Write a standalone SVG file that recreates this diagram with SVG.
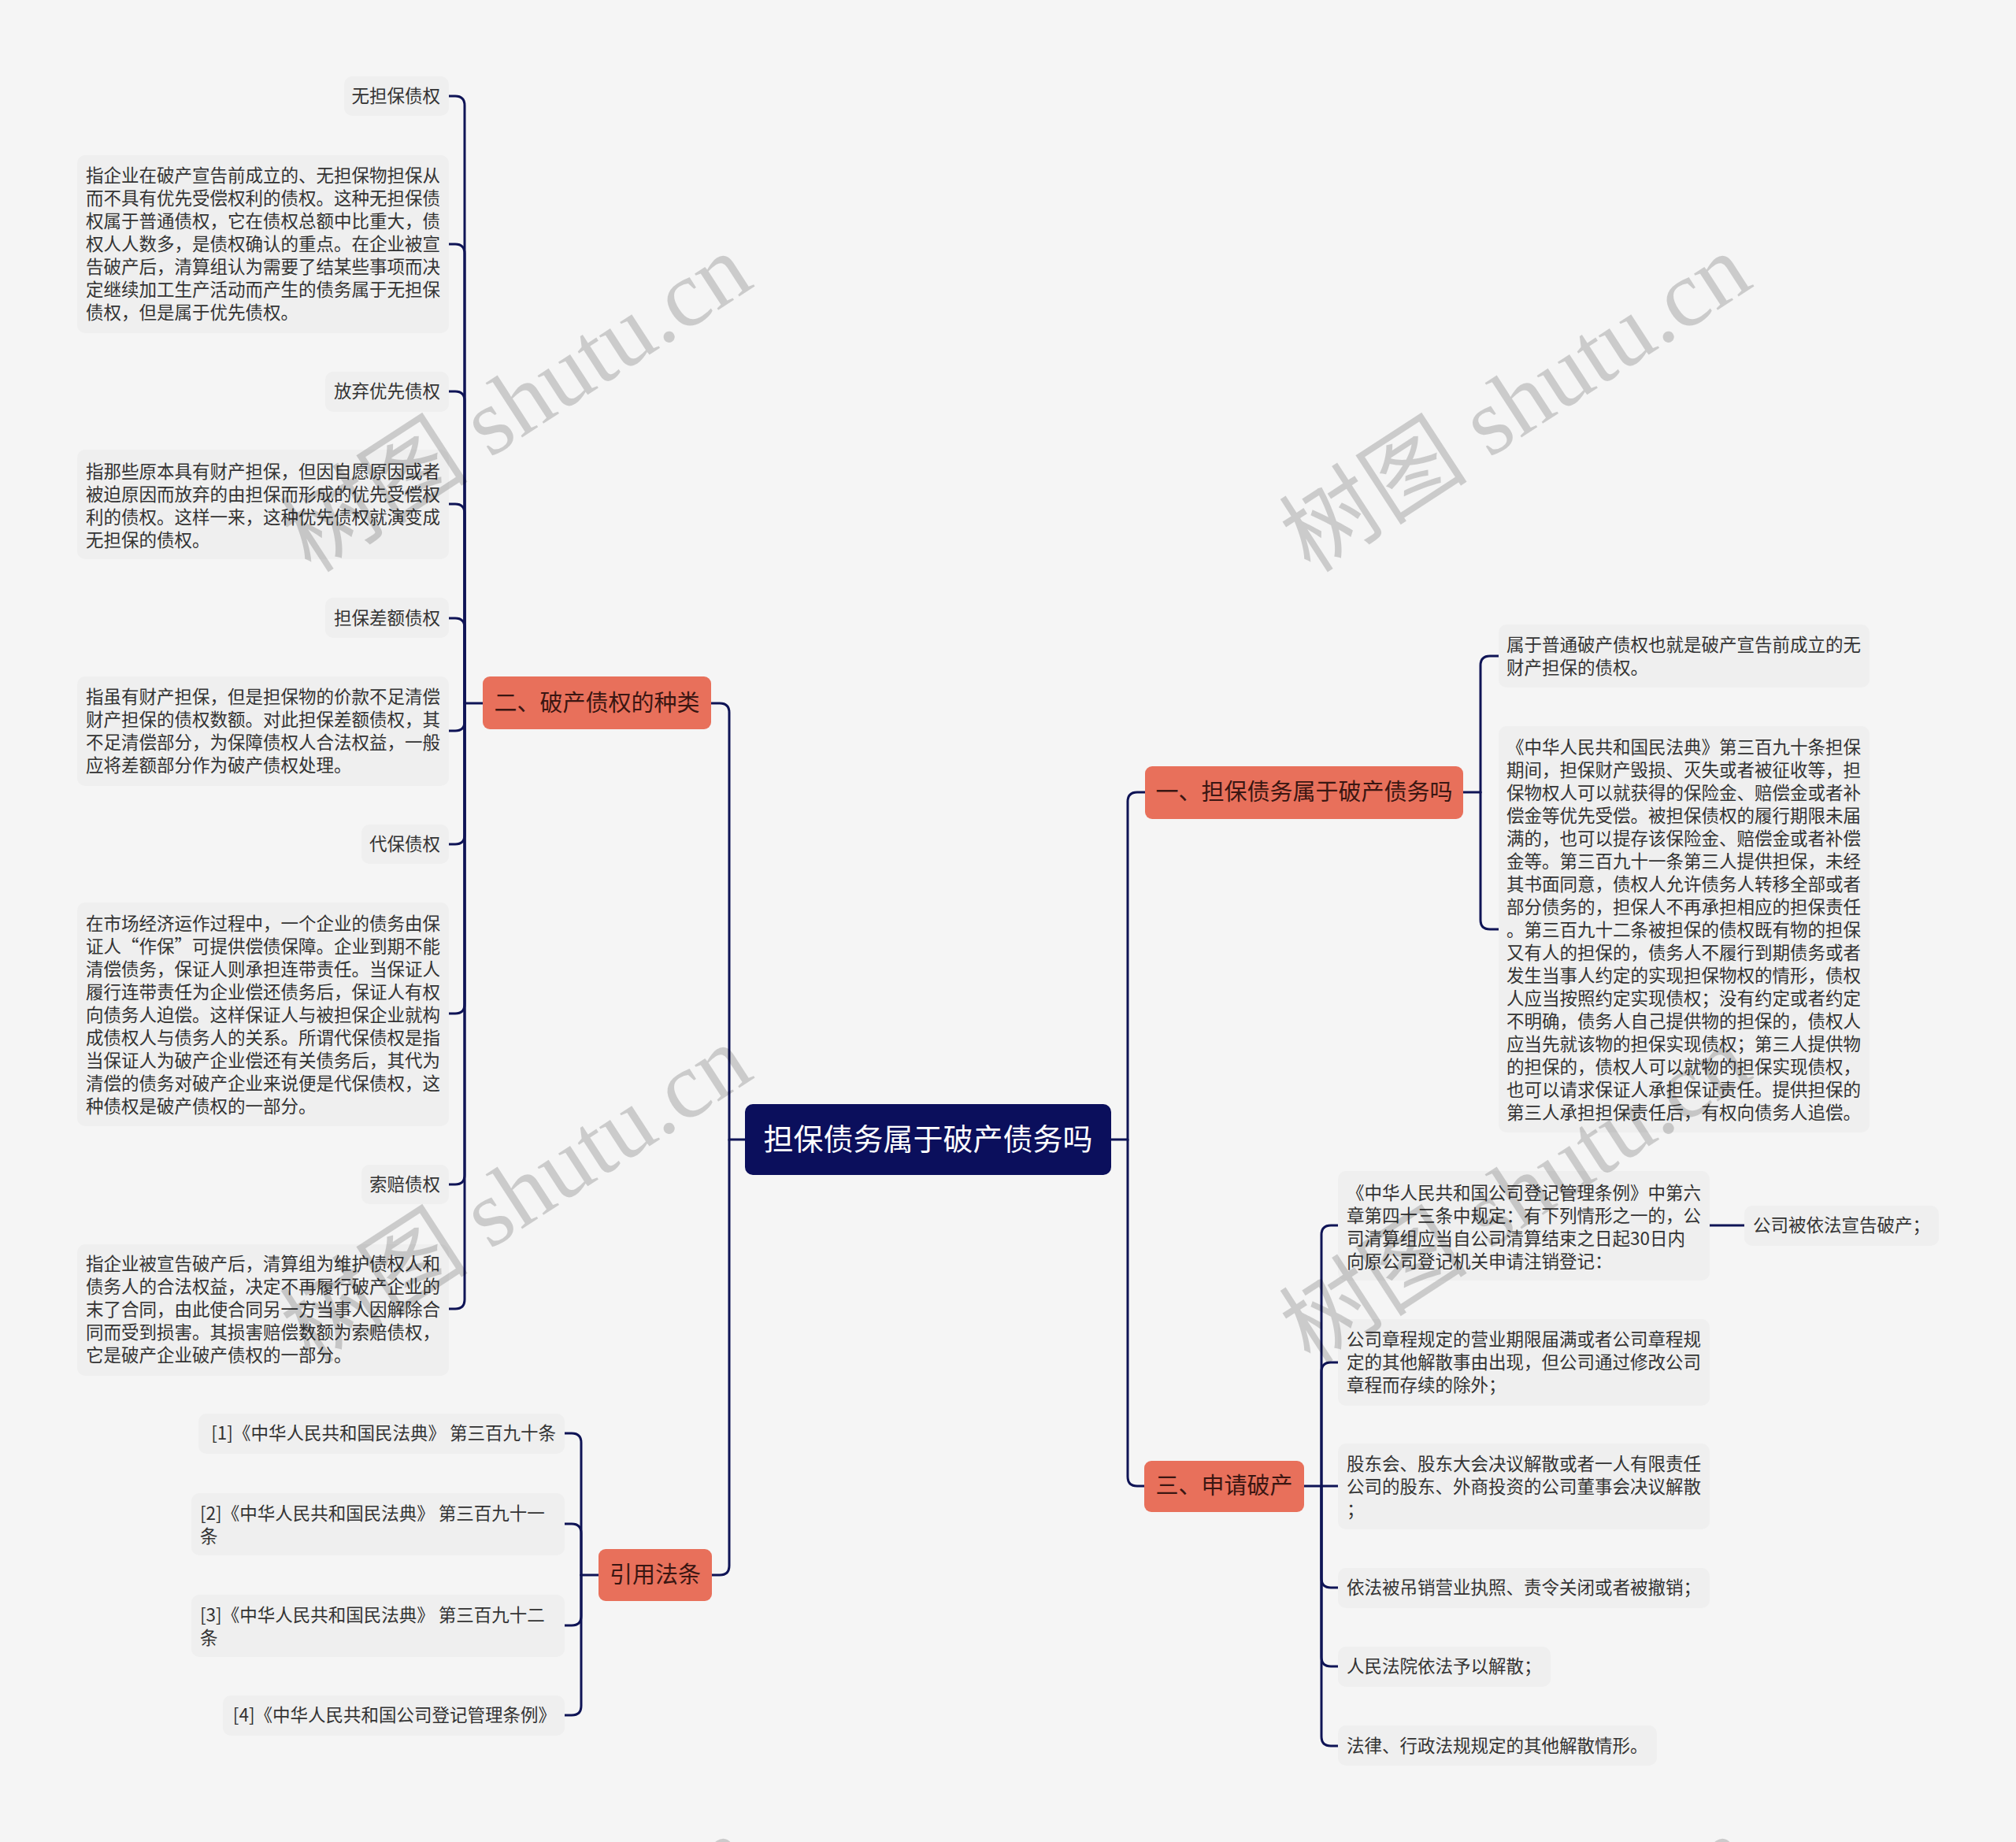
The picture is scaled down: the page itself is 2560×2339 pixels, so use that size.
<svg xmlns="http://www.w3.org/2000/svg" width="2560" height="2339" viewBox="0 0 2560 2339">
<style>
.leaf{fill:#efefef}
.lt{font-family:"Noto Sans CJK SC","Noto Sans",sans-serif;font-size:22.5px;fill:#333333}
.br{fill:#e8705b}
.bt{font-family:"Noto Sans CJK SC","Noto Sans",sans-serif;font-size:29px;fill:#3a1612;text-anchor:middle}
.root{fill:#0b0f5c}
.rt{font-family:"Noto Sans CJK SC","Noto Sans",sans-serif;font-size:38px;fill:#ffffff;text-anchor:middle}
.conn path{fill:none;stroke:#0f1456;stroke-width:3;stroke-linecap:round}
.wm{font-family:"Liberation Serif","Noto Sans CJK SC",serif;font-size:120px;fill:#000000;fill-opacity:0.17;text-anchor:middle}
.e{text-anchor:end}
</style>
<rect x="0" y="0" width="2560" height="2339" fill="#f5f5f5"/>

<g id="connectors" class="conn">
<path d="M946 1447 H926 V905 Q926 893 914 893 H903"/>
<path d="M926 1447 V1988 Q926 2000 914 2000 H903"/>
<path d="M1411 1447 H1432 V1018 Q1432 1006 1444 1006 H1454"/>
<path d="M1432 1447 V1875 Q1432 1887 1444 1887 H1453"/>

<path d="M613 893 H590"/>
<path d="M590 893 V134 Q590 122 578 122 H570"/>
<path d="M590 893 V322 Q590 310 578 310 H570"/>
<path d="M590 893 V509 Q590 497 578 497 H570"/>
<path d="M590 893 V652 Q590 640 578 640 H570"/>
<path d="M590 893 V797 Q590 785 578 785 H570"/>
<path d="M590 893 V916 Q590 928 578 928 H570"/>
<path d="M590 893 V1060 Q590 1072 578 1072 H570"/>
<path d="M590 893 V1275 Q590 1287 578 1287 H570"/>
<path d="M590 893 V1492 Q590 1504 578 1504 H570"/>
<path d="M590 893 V1650 Q590 1662 578 1662 H570"/>

<path d="M760 2000 H738"/>
<path d="M738 2000 V1832 Q738 1820 726 1820 H717"/>
<path d="M738 2000 V1947 Q738 1935 726 1935 H717"/>
<path d="M738 2000 V2052 Q738 2064 726 2064 H717"/>
<path d="M738 2000 V2166 Q738 2178 726 2178 H717"/>

<path d="M1858 1006 H1880"/>
<path d="M1880 1006 V845 Q1880 833 1892 833 H1903"/>
<path d="M1880 1006 V1168 Q1880 1180 1892 1180 H1903"/>

<path d="M1656 1887 H1699"/>
<path d="M1678 1887 V1568 Q1678 1556 1690 1556 H1699"/>
<path d="M1678 1887 V1742 Q1678 1730 1690 1730 H1699"/>
<path d="M1678 1887 V2004 Q1678 2016 1690 2016 H1699"/>
<path d="M1678 1887 V2104 Q1678 2116 1690 2116 H1699"/>
<path d="M1678 1887 V2205 Q1678 2217 1690 2217 H1699"/>
<path d="M2171 1556 H2215"/>
</g>

<g id="root">
<rect class="root" x="946" y="1402" width="465" height="90" rx="10"/>
<text class="rt" x="1178.5" y="1460">担保债务属于破产债务吗</text>
</g>

<g id="b2">
<rect class="br" x="613" y="859" width="290" height="67" rx="9"/>
<text class="bt" x="758" y="903">二、破产债权的种类</text>
</g>
<g id="b4">
<rect class="br" x="760" y="1967" width="144" height="66" rx="9"/>
<text class="bt" x="832" y="2010">引用法条</text>
</g>
<g id="b1">
<rect class="br" x="1454" y="973" width="404" height="67" rx="9"/>
<text class="bt" x="1656" y="1016">一、担保债务属于破产债务吗</text>
</g>
<g id="b3">
<rect class="br" x="1453" y="1855" width="203" height="65" rx="9"/>
<text class="bt" x="1554.5" y="1897">三、申请破产</text>
</g>

<g id="l1"><rect class="leaf" x="437" y="97" width="133" height="50" rx="10"/><text class="lt e" x="559" y="130">无担保债权</text></g>
<g id="l2"><rect class="leaf" x="98" y="197" width="472" height="226" rx="10"/>
<text class="lt" x="109" y="231"><tspan x="109">指企业在破产宣告前成立的、无担保物担保从</tspan><tspan x="109" dy="29">而不具有优先受偿权利的债权。这种无担保债</tspan><tspan x="109" dy="29">权属于普通债权，它在债权总额中比重大，债</tspan><tspan x="109" dy="29">权人人数多，是债权确认的重点。在企业被宣</tspan><tspan x="109" dy="29">告破产后，清算组认为需要了结某些事项而决</tspan><tspan x="109" dy="29">定继续加工生产活动而产生的债务属于无担保</tspan><tspan x="109" dy="29">债权，但是属于优先债权。</tspan></text></g>
<g id="l3"><rect class="leaf" x="413" y="472" width="157" height="51" rx="10"/><text class="lt e" x="559" y="505">放弃优先债权</text></g>
<g id="l4"><rect class="leaf" x="98" y="571" width="472" height="139" rx="10"/>
<text class="lt" x="109" y="607"><tspan x="109">指那些原本具有财产担保，但因自愿原因或者</tspan><tspan x="109" dy="29">被迫原因而放弃的由担保而形成的优先受偿权</tspan><tspan x="109" dy="29">利的债权。这样一来，这种优先债权就演变成</tspan><tspan x="109" dy="29">无担保的债权。</tspan></text></g>
<g id="l5"><rect class="leaf" x="413" y="759" width="157" height="51" rx="10"/><text class="lt e" x="559" y="793">担保差额债权</text></g>
<g id="l6"><rect class="leaf" x="98" y="859" width="472" height="139" rx="10"/>
<text class="lt" x="109" y="893"><tspan x="109">指虽有财产担保，但是担保物的价款不足清偿</tspan><tspan x="109" dy="29">财产担保的债权数额。对此担保差额债权，其</tspan><tspan x="109" dy="29">不足清偿部分，为保障债权人合法权益，一般</tspan><tspan x="109" dy="29">应将差额部分作为破产债权处理。</tspan></text></g>
<g id="l7"><rect class="leaf" x="459" y="1047" width="111" height="50" rx="10"/><text class="lt e" x="559" y="1080">代保债权</text></g>
<g id="l8"><rect class="leaf" x="98" y="1146" width="472" height="284" rx="10"/>
<text class="lt" x="109" y="1181"><tspan x="109">在市场经济运作过程中，一个企业的债务由保</tspan><tspan x="109" dy="29">证人“作保”可提供偿债保障。企业到期不能</tspan><tspan x="109" dy="29">清偿债务，保证人则承担连带责任。当保证人</tspan><tspan x="109" dy="29">履行连带责任为企业偿还债务后，保证人有权</tspan><tspan x="109" dy="29">向债务人迫偿。这样保证人与被担保企业就构</tspan><tspan x="109" dy="29">成债权人与债务人的关系。所谓代保债权是指</tspan><tspan x="109" dy="29">当保证人为破产企业偿还有关债务后，其代为</tspan><tspan x="109" dy="29">清偿的债务对破产企业来说便是代保债权，这</tspan><tspan x="109" dy="29">种债权是破产债权的一部分。</tspan></text></g>
<g id="l9"><rect class="leaf" x="459" y="1479" width="111" height="50" rx="10"/><text class="lt e" x="559" y="1512">索赔债权</text></g>
<g id="l10"><rect class="leaf" x="98" y="1580" width="472" height="167" rx="10"/>
<text class="lt" x="109" y="1613"><tspan x="109">指企业被宣告破产后，清算组为维护债权人和</tspan><tspan x="109" dy="29">债务人的合法权益，决定不再履行破产企业的</tspan><tspan x="109" dy="29">末了合同，由此使合同另一方当事人因解除合</tspan><tspan x="109" dy="29">同而受到损害。其损害赔偿数额为索赔债权，</tspan><tspan x="109" dy="29">它是破产企业破产债权的一部分。</tspan></text></g>

<g id="r1"><rect class="leaf" x="252" y="1795" width="465" height="51" rx="10"/><text class="lt e" x="706" y="1828">[1]《中华人民共和国民法典》 第三百九十条</text></g>
<g id="r2"><rect class="leaf" x="243" y="1896" width="474" height="79" rx="10"/>
<text class="lt" x="254" y="1930"><tspan x="254">[2]《中华人民共和国民法典》 第三百九十一</tspan><tspan x="254" dy="29">条</tspan></text></g>
<g id="r3"><rect class="leaf" x="243" y="2025" width="474" height="79" rx="10"/>
<text class="lt" x="254" y="2059"><tspan x="254">[3]《中华人民共和国民法典》 第三百九十二</tspan><tspan x="254" dy="29">条</tspan></text></g>
<g id="r4"><rect class="leaf" x="283" y="2153" width="434" height="51" rx="10"/><text class="lt e" x="706" y="2186">[4]《中华人民共和国公司登记管理条例》</text></g>

<g id="a1"><rect class="leaf" x="1903" y="793" width="471" height="80" rx="10"/>
<text class="lt" x="1913" y="827"><tspan x="1913">属于普通破产债权也就是破产宣告前成立的无</tspan><tspan x="1913" dy="29">财产担保的债权。</tspan></text></g>
<g id="a2"><rect class="leaf" x="1903" y="922" width="471" height="516" rx="10"/>
<text class="lt" x="1913" y="957"><tspan x="1913">《中华人民共和国民法典》第三百九十条担保</tspan><tspan x="1913" dy="29">期间，担保财产毁损、灭失或者被征收等，担</tspan><tspan x="1913" dy="29">保物权人可以就获得的保险金、赔偿金或者补</tspan><tspan x="1913" dy="29">偿金等优先受偿。被担保债权的履行期限未届</tspan><tspan x="1913" dy="29">满的，也可以提存该保险金、赔偿金或者补偿</tspan><tspan x="1913" dy="29">金等。第三百九十一条第三人提供担保，未经</tspan><tspan x="1913" dy="29">其书面同意，债权人允许债务人转移全部或者</tspan><tspan x="1913" dy="29">部分债务的，担保人不再承担相应的担保责任</tspan><tspan x="1913" dy="29">。第三百九十二条被担保的债权既有物的担保</tspan><tspan x="1913" dy="29">又有人的担保的，债务人不履行到期债务或者</tspan><tspan x="1913" dy="29">发生当事人约定的实现担保物权的情形，债权</tspan><tspan x="1913" dy="29">人应当按照约定实现债权；没有约定或者约定</tspan><tspan x="1913" dy="29">不明确，债务人自己提供物的担保的，债权人</tspan><tspan x="1913" dy="29">应当先就该物的担保实现债权；第三人提供物</tspan><tspan x="1913" dy="29">的担保的，债权人可以就物的担保实现债权，</tspan><tspan x="1913" dy="29">也可以请求保证人承担保证责任。提供担保的</tspan><tspan x="1913" dy="29">第三人承担担保责任后，有权向债务人追偿。</tspan></text></g>

<g id="c1"><rect class="leaf" x="1699" y="1487" width="472" height="139" rx="10"/>
<text class="lt" x="1710" y="1523"><tspan x="1710">《中华人民共和国公司登记管理条例》中第六</tspan><tspan x="1710" dy="29">章第四十三条中规定：有下列情形之一的，公</tspan><tspan x="1710" dy="29">司清算组应当自公司清算结束之日起30日内</tspan><tspan x="1710" dy="29">向原公司登记机关申请注销登记：</tspan></text></g>
<g id="c1a"><rect class="leaf" x="2215" y="1531" width="247" height="51" rx="10"/><text class="lt" x="2226" y="1564">公司被依法宣告破产；</text></g>
<g id="c2"><rect class="leaf" x="1699" y="1675" width="472" height="110" rx="10"/>
<text class="lt" x="1710" y="1709"><tspan x="1710">公司章程规定的营业期限届满或者公司章程规</tspan><tspan x="1710" dy="29">定的其他解散事由出现，但公司通过修改公司</tspan><tspan x="1710" dy="29">章程而存续的除外；</tspan></text></g>
<g id="c3"><rect class="leaf" x="1699" y="1833" width="472" height="109" rx="10"/>
<text class="lt" x="1710" y="1867"><tspan x="1710">股东会、股东大会决议解散或者一人有限责任</tspan><tspan x="1710" dy="29">公司的股东、外商投资的公司董事会决议解散</tspan><tspan x="1710" dy="29">；</tspan></text></g>
<g id="c4"><rect class="leaf" x="1699" y="1991" width="472" height="51" rx="10"/><text class="lt" x="1710" y="2024">依法被吊销营业执照、责令关闭或者被撤销；</text></g>
<g id="c5"><rect class="leaf" x="1699" y="2091" width="270" height="51" rx="10"/><text class="lt" x="1710" y="2124">人民法院依法予以解散；</text></g>
<g id="c6"><rect class="leaf" x="1699" y="2191" width="405" height="51" rx="10"/><text class="lt" x="1710" y="2225">法律、行政法规规定的其他解散情形。</text></g>

<g id="watermarks">
<text class="wm" transform="translate(657,514) rotate(-33)" x="0" y="38">树图 shutu.cn</text>
<text class="wm" transform="translate(1926,514) rotate(-33)" x="0" y="38">树图 shutu.cn</text>
<text class="wm" transform="translate(657,1519) rotate(-33)" x="0" y="38">树图 shutu.cn</text>
<text class="wm" transform="translate(1926,1519) rotate(-33)" x="0" y="38">树图 shutu.cn</text>
<text class="wm" transform="translate(657,2524) rotate(-33)" x="0" y="38">树图 shutu.cn</text>
<text class="wm" transform="translate(1926,2524) rotate(-33)" x="0" y="38">树图 shutu.cn</text>
</g>
</svg>
